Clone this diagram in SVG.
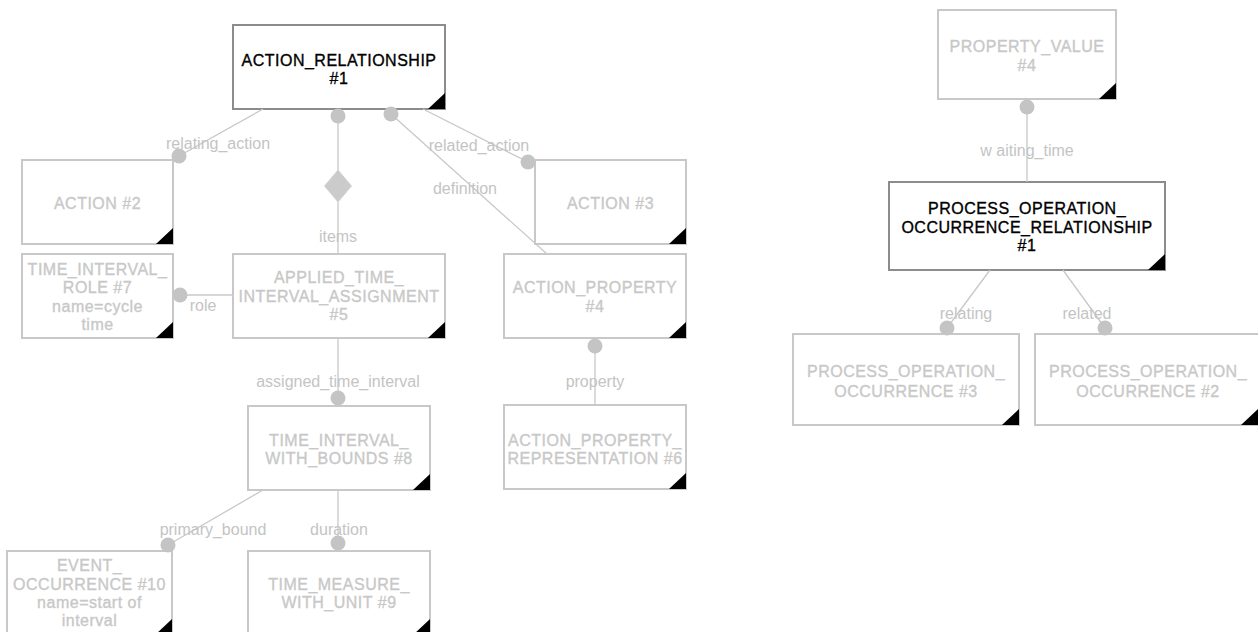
<svg xmlns="http://www.w3.org/2000/svg" width="1258" height="632" viewBox="0 0 1258 632">
<style>
.box{fill:#fff;stroke:#c8c8c8;stroke-width:2}
.main{fill:#fff;stroke:#8c8c8c;stroke-width:2}
.nt{font-family:"Liberation Sans",Arial,sans-serif;font-size:16px;letter-spacing:0.5px;fill:#c8c8c8;stroke:#c8c8c8;stroke-width:0.35;text-anchor:middle}
.mt{fill:#000;stroke:#000}
.corner{fill:#000}
.ln{stroke:#c8c8c8;stroke-width:1.3;fill:none}
.dot{fill:#c4c4c4}
.lb{font-family:"Liberation Sans",Arial,sans-serif;font-size:16px;fill:#c4c4c4;text-anchor:middle}
</style>
<rect width="1258" height="632" fill="#fff"/>
<g id="nodes">
<g id="n_action_relationship">
<rect class="main" x="233" y="25" width="212" height="84"/>
<polygon class="corner" points="428,109 445,93 445,109"/>
<text class="nt mt" x="339" y="66">ACTION_RELATIONSHIP</text>
<text class="nt mt" x="339" y="84">#1</text>
</g>
<g id="n_action2">
<rect class="box" x="22" y="160" width="151" height="84"/>
<polygon class="corner" points="156,244 173,228 173,244"/>
<text class="nt" x="97.5" y="209">ACTION #2</text>
</g>
<g id="n_action3">
<rect class="box" x="535" y="160" width="151" height="84"/>
<polygon class="corner" points="669,244 686,228 686,244"/>
<text class="nt" x="610.5" y="209">ACTION #3</text>
</g>
<g id="n_action_property4">
<rect class="box" x="504" y="254" width="182" height="84"/>
<polygon class="corner" points="669,338 686,322 686,338"/>
<text class="nt" x="595" y="293">ACTION_PROPERTY</text>
<text class="nt" x="595" y="312">#4</text>
</g>
<g id="n_action_property_representation6">
<rect class="box" x="504" y="405" width="182" height="84"/>
<polygon class="corner" points="669,489 686,473 686,489"/>
<text class="nt" x="595" y="446">ACTION_PROPERTY_</text>
<text class="nt" x="595" y="464">REPRESENTATION #6</text>
</g>
<g id="n_applied_time_interval_assignment5">
<rect class="box" x="233" y="254" width="212" height="84"/>
<polygon class="corner" points="428,338 445,322 445,338"/>
<text class="nt" x="339" y="283">APPLIED_TIME_</text>
<text class="nt" x="339" y="302">INTERVAL_ASSIGNMENT</text>
<text class="nt" x="339" y="320">#5</text>
</g>
<g id="n_time_interval_role7">
<rect class="box" x="22" y="254" width="151" height="84"/>
<polygon class="corner" points="156,338 173,322 173,338"/>
<text class="nt" x="97.5" y="275">TIME_INTERVAL_</text>
<text class="nt" x="97.5" y="293">ROLE #7</text>
<text class="nt" x="97.5" y="312">name=cycle</text>
<text class="nt" x="97.5" y="330">time</text>
</g>
<g id="n_time_interval_with_bounds8">
<rect class="box" x="248" y="406" width="182" height="84"/>
<polygon class="corner" points="413,490 430,474 430,490"/>
<text class="nt" x="339" y="446">TIME_INTERVAL_</text>
<text class="nt" x="339" y="464">WITH_BOUNDS #8</text>
</g>
<g id="n_event_occurrence10">
<rect class="box" x="7" y="551" width="165" height="84"/>
<polygon class="corner" points="155,635 172,619 172,635"/>
<text class="nt" x="89.5" y="571">EVENT_</text>
<text class="nt" x="89.5" y="590">OCCURRENCE #10</text>
<text class="nt" x="89.5" y="608">name=start of</text>
<text class="nt" x="89.5" y="626">interval</text>
</g>
<g id="n_time_measure_with_unit9">
<rect class="box" x="248" y="551" width="182" height="84"/>
<polygon class="corner" points="413,635 430,619 430,635"/>
<text class="nt" x="339" y="590">TIME_MEASURE_</text>
<text class="nt" x="339" y="608">WITH_UNIT #9</text>
</g>
<g id="n_property_value4">
<rect class="box" x="938" y="10" width="178" height="89"/>
<polygon class="corner" points="1099,99 1116,83 1116,99"/>
<text class="nt" x="1027" y="52">PROPERTY_VALUE</text>
<text class="nt" x="1027" y="71">#4</text>
</g>
<g id="n_process_operation_occurrence_relationship1">
<rect class="main" x="889" y="182" width="276" height="88"/>
<polygon class="corner" points="1148,270 1165,254 1165,270"/>
<text class="nt mt" x="1027" y="214">PROCESS_OPERATION_</text>
<text class="nt mt" x="1027" y="233">OCCURRENCE_RELATIONSHIP</text>
<text class="nt mt" x="1027" y="251">#1</text>
</g>
<g id="n_process_operation_occurrence3">
<rect class="box" x="793" y="334" width="226" height="91"/>
<polygon class="corner" points="1002,425 1019,409 1019,425"/>
<text class="nt" x="906" y="377">PROCESS_OPERATION_</text>
<text class="nt" x="906" y="397">OCCURRENCE #3</text>
</g>
<g id="n_process_operation_occurrence2">
<rect class="box" x="1035" y="334" width="226" height="91"/>
<polygon class="corner" points="1241,425 1258,409 1258,425"/>
<text class="nt" x="1148" y="377">PROCESS_OPERATION_</text>
<text class="nt" x="1148" y="397">OCCURRENCE #2</text>
</g>
</g>
<g id="connectors">
<line class="ln" x1="263" y1="109" x2="179" y2="156"/>
<circle class="dot" cx="179" cy="156" r="7.5"/>
<text class="lb" x="218" y="149">relating_action</text>

<line class="ln" x1="338" y1="109" x2="338" y2="254"/>
<circle class="dot" cx="338" cy="116" r="7.5"/>
<polygon points="338,170 351.5,186 338,202 324.5,186" fill="#cbcbcb" stroke="#d4d4d4" stroke-width="1"/>
<text class="lb" x="338" y="242">items</text>

<line class="ln" x1="391" y1="114" x2="547" y2="254"/>
<circle class="dot" cx="391" cy="114" r="7.5"/>
<text class="lb" x="465" y="194">definition</text>

<line class="ln" x1="423" y1="109" x2="528" y2="162"/>
<circle class="dot" cx="528" cy="162" r="7.5"/>
<text class="lb" x="479" y="151">related_action</text>

<line class="ln" x1="180" y1="295" x2="233" y2="295"/>
<circle class="dot" cx="180" cy="295" r="7.5"/>
<text class="lb" x="203" y="311">role</text>

<line class="ln" x1="338" y1="338" x2="338" y2="398"/>
<circle class="dot" cx="338" cy="398" r="7.5"/>
<text class="lb" x="338" y="387">assigned_time_interval</text>

<line class="ln" x1="595" y1="346" x2="595" y2="405"/>
<circle class="dot" cx="595" cy="346" r="7.5"/>
<text class="lb" x="595" y="387">property</text>

<line class="ln" x1="263" y1="490" x2="168" y2="545"/>
<circle class="dot" cx="168" cy="545" r="7.5"/>
<text class="lb" x="213" y="535">primary_bound</text>

<line class="ln" x1="338" y1="490" x2="338" y2="543"/>
<circle class="dot" cx="338" cy="543" r="7.5"/>
<text class="lb" x="339" y="535">duration</text>

<line class="ln" x1="1027" y1="107" x2="1027" y2="182"/>
<circle class="dot" cx="1027" cy="107" r="7.5"/>
<text class="lb" x="1027" y="156">w aiting_time</text>

<line class="ln" x1="990" y1="270" x2="947" y2="328"/>
<circle class="dot" cx="947" cy="328" r="7.5"/>
<text class="lb" x="966" y="319">relating</text>

<line class="ln" x1="1063" y1="270" x2="1105" y2="328"/>
<circle class="dot" cx="1105" cy="328" r="7.5"/>
<text class="lb" x="1087" y="319">related</text>
</g>
</svg>
